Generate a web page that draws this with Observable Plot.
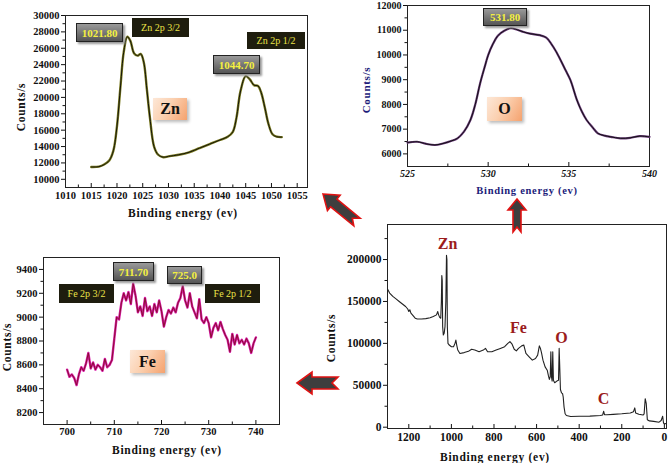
<!DOCTYPE html>
<html><head><meta charset="utf-8">
<script src="https://cdn.jsdelivr.net/npm/d3@7"></script>
<script src="https://cdn.jsdelivr.net/npm/@observablehq/plot@0.6"></script>
<style>
body{margin:0;background:#fff;}
#root{position:relative;width:669px;height:463px;overflow:hidden;font-family:"Liberation Serif","DejaVu Serif",serif;}
#root div{font-family:"Liberation Serif","DejaVu Serif",serif !important;}
#root svg text{font-family:"Liberation Serif","DejaVu Serif",serif !important;font-weight:bold;}
.panel{position:absolute;}
.lbl{position:absolute;font-weight:bold;white-space:nowrap;font-size:11.5px;letter-spacing:0.7px;color:#111;transform:translate(-50%,-50%);}
.rot{transform:translate(-50%,-50%) rotate(-90deg);}
.val{position:absolute;box-sizing:border-box;background:linear-gradient(#9a9a9a,#555);border:1px solid #222;box-shadow:2px 2px 2px #999;color:#f4f040;font-weight:bold;font-size:11px;display:flex;align-items:center;justify-content:center;}
.peak{position:absolute;background:#1e1d0e;color:#ece448;font-size:10px;display:flex;align-items:center;justify-content:center;white-space:nowrap;}
.elem{position:absolute;background:linear-gradient(120deg,#fde8d8 0%,#fbd0b0 45%,#f5a26e 100%);box-shadow:2px 2px 3px #bbb;font-weight:bold;font-size:16px;display:flex;align-items:center;justify-content:center;color:#111;}
</style></head>
<body><div id="root"></div>
<script>
// ---------- Zn 2p ----------
const znBE =     [1015, 1016.5, 1017.5, 1018.5, 1019.3, 1020, 1020.7, 1021.3, 1022, 1022.6, 1023.3, 1024, 1024.6, 1025.2, 1025.8, 1026.4, 1027.2, 1028, 1029, 1030, 1032, 1034, 1036, 1038, 1040, 1041.5, 1042.5, 1043.2, 1044, 1045, 1045.8, 1046.6, 1047.4, 1048, 1048.7, 1049.4, 1050.2, 1051, 1052];
const znCounts = [11500, 11550, 11800, 12300, 13500, 16500, 21500, 25500, 27400, 26900, 25400, 25100, 25300, 24300, 21000, 17500, 14000, 13000, 12700, 12800, 13000, 13300, 13800, 14300, 14800, 15200, 15800, 17500, 20800, 22600, 22200, 21500, 21400, 20600, 18800, 16800, 15500, 15200, 15150];
const znXTicks = [1010, 1015, 1020, 1025, 1030, 1035, 1040, 1045, 1050, 1055];
const znXMinor = [1012.5, 1017.5, 1022.5, 1027.5, 1032.5, 1037.5, 1042.5, 1047.5, 1052.5];
const znYTicks = [10000, 12000, 14000, 16000, 18000, 20000, 22000, 24000, 26000, 28000, 30000];
const znYMinor = [11000, 13000, 15000, 17000, 19000, 21000, 23000, 25000, 27000, 29000];

// ---------- O 1s ----------
const oBE =     [525, 525.6, 526.2, 526.7, 527.2, 527.7, 528.1, 528.5, 528.9, 529.2, 529.5, 529.8, 530, 530.3, 530.6, 531, 531.4, 531.8, 532.2, 532.6, 533.2, 533.6, 533.9, 534.2, 534.5, 534.8, 535.1, 535.5, 535.8, 536.1, 536.5, 536.8, 537.2, 537.6, 538.2, 538.8, 539.4, 540];
const oCounts = [6456, 6490, 6400, 6360, 6420, 6520, 6630, 6900, 7370, 8000, 8850, 9550, 9990, 10450, 10780, 10980, 11080, 11020, 10930, 10860, 10800, 10700, 10460, 10150, 9780, 9380, 8980, 8180, 7720, 7370, 7050, 6830, 6740, 6690, 6630, 6650, 6720, 6690];
const oXTicks = [525, 530, 535, 540];
const oXMinor = [527.5, 532.5, 537.5];
const oYTicks = [6000, 7000, 8000, 9000, 10000, 11000, 12000];
const oYMinor = [6500, 7500, 8500, 9500, 10500, 11500];

// ---------- Fe 2p ----------
const feBE = [700, 700.5, 701, 701.5, 702, 702.5, 703, 703.5, 704, 704.5, 705, 705.5, 706, 706.5, 707, 707.5, 708, 708.5, 709, 709.5,
  710, 710.5, 711, 711.5, 712, 712.5, 713, 713.5, 714, 714.5, 715, 715.5, 716, 716.5, 717, 717.5, 718, 718.5, 719, 719.5,
  720, 720.5, 721, 721.5, 722, 722.5, 723, 723.5, 724, 724.5, 725, 725.5, 726, 726.5, 727, 727.5, 728, 728.5, 729, 729.5,
  730, 730.5, 731, 731.5, 732, 732.5, 733, 733.5, 734, 734.5, 735, 735.5, 736, 736.5, 737, 737.5, 738, 738.5, 739, 739.5, 740];
const feCounts = [8560, 8500, 8520, 8490, 8430, 8520, 8580, 8550, 8610, 8700, 8570, 8620, 8560, 8600, 8580, 8550, 8650, 8580, 8600, 8640,
  8820, 9000, 8980, 9120, 9200, 9140, 9210, 9110, 9280, 9180, 9040, 9090, 9010, 9160, 9050, 9090, 9010, 9110, 9040, 9140,
  9050, 8920, 9000, 9060, 9030, 9080, 9040, 9120, 9160, 9260, 9140, 9080, 9200, 9090, 9040, 8990, 9150, 8980, 8950, 9000,
  8950, 8830, 8910, 8950, 8890, 8960, 8900, 8850, 8810, 8710, 8860, 8770, 8850, 8780, 8810, 8770, 8820, 8780, 8700, 8780, 8830];
const feXTicks = [700, 710, 720, 730, 740];
const feXMinor = [705, 715, 725, 735];
const feYTicks = [8200, 8400, 8600, 8800, 9000, 9200, 9400];
const feYMinor = [8300, 8500, 8700, 8900, 9100, 9300];

// ---------- Survey ----------
const svBE = [1300, 1290, 1275, 1260, 1245, 1230, 1215, 1205, 1200, 1195, 1190, 1180, 1170, 1160, 1140, 1120, 1100, 1085, 1070, 1064, 1060, 1055, 1050, 1047, 1045, 1043, 1041, 1038, 1034, 1030, 1026, 1023, 1021, 1019, 1016, 1010, 1000, 990, 983, 979, 975, 970, 960, 940, 920, 905, 890, 870, 850, 840, 830, 810, 790, 770, 750, 735, 725, 715, 705, 695, 685, 670, 660, 650, 635, 620, 605, 595, 587, 582, 577, 570, 560, 550, 545, 540, 536, 533, 530, 527, 524, 521, 515, 505, 497, 494, 491, 488, 483, 478, 475, 471, 466, 460, 440, 400, 350, 300, 290, 285, 281, 270, 240, 200, 160, 145, 139, 135, 120, 100, 95, 90, 85, 80, 70, 50, 25, 15, 8, 4, 0, -8];
const svCounts = [165000, 160000, 156000, 153000, 150000, 147000, 144000, 141000, 138000, 140000, 136000, 133000, 130000, 129000, 129000, 129500, 130500, 132000, 134000, 138000, 134000, 131000, 130000, 150000, 181000, 175000, 120000, 110000, 112000, 120000, 150000, 205000, 200000, 120000, 100000, 98000, 96000, 96000, 100000, 104000, 98000, 92000, 88000, 89000, 90500, 93000, 92000, 90000, 92000, 94000, 90000, 90000, 92000, 94000, 96000, 100000, 102000, 99000, 93000, 91000, 94000, 97000, 98000, 88000, 84000, 80000, 82000, 86000, 97000, 94000, 89000, 80000, 72000, 68000, 62000, 57000, 60000, 90000, 60000, 55000, 90000, 56000, 53000, 55000, 56000, 94000, 70000, 45000, 41000, 40000, 36000, 24000, 16000, 14000, 12800, 13000, 13200, 14000, 14500, 19000, 15000, 14800, 15300, 16000, 17000, 18500, 23000, 17000, 15500, 14500, 16000, 34000, 28000, 9000, 7500, 7000, 6000, 8000, 13000, 5000, 4000, 4500];
const svXTicks = [1200, 1000, 800, 600, 400, 200, 0];
const svXMinor = [1100, 900, 700, 500, 300, 100];
const svYTicks = [0, 50000, 100000, 150000, 200000];
const svYMinor = [25000, 75000, 125000, 175000, 225000];
const svElems = ["Zn", "Fe", "O", "C"];
const svElemBE = [1018, 685, 483, 286];
const svElemCounts = [219000, 118000, 107000, 34000];

// ---------- helpers ----------
const root = document.getElementById("root");
const rows = (xs, ys) => xs.map((x, i) => ({x, y: ys[i]}));
const fmt = d => String(d);

function place(el, left, top) {
  el.classList.add("panel");
  el.style.left = left + "px";
  el.style.top = top + "px";
  root.appendChild(el);
}
// x ticks point inward (up), y ticks point outward (left)
function axes(xT, xM, yT, yM, o = {}) {
  const xo = {tickSize: -4, tickPadding: 4 + (o.xGap || 4), label: null, tickFormat: fmt, fontSize: o.xFont || 10, fontStyle: o.xStyle || "normal"};
  const yo = {tickSize: 4, tickPadding: 2, label: null, tickFormat: fmt, fontSize: o.yFont || 10};
  return [
    Plot.axisX(xT, xo),
    Plot.axisX(xM, {tickSize: -2.5, tickFormat: () => "", label: null}),
    Plot.axisY(yT, yo),
    Plot.axisY(yM, {tickSize: 2.5, tickFormat: () => "", label: null})
  ];
}
const baseStyle = {fontFamily: "Liberation Serif", fontWeight: "bold", color: "#111", background: "transparent", overflow: "visible"};

// Zn panel
place(Plot.plot({
  width: 320, height: 215, marginLeft: 65, marginRight: 13, marginTop: 15, marginBottom: 28,
  x: {domain: [1010, 1057]}, y: {domain: [9000, 30000]},
  style: baseStyle,
  marks: [
    ...axes(znXTicks, znXMinor, znYTicks, znYMinor, {xFont: 10.5, yFont: 10.5, xGap: 4}),
    Plot.frame({stroke: "#222"}),
    Plot.line(rows(znBE, znCounts), {x: "x", y: "y", stroke: "#7a7a20", strokeWidth: 2.4, curve: "catmull-rom"}),
    Plot.line(rows(znBE, znCounts), {x: "x", y: "y", stroke: "#15150a", strokeWidth: 1, curve: "catmull-rom"})
  ]
}), 0, 0);

// O panel
place(Plot.plot({
  width: 329, height: 200, marginLeft: 67, marginRight: 20, marginTop: 5, marginBottom: 34,
  x: {domain: [525, 540]}, y: {domain: [5490, 12000]},
  style: baseStyle,
  marks: [
    ...axes(oXTicks, oXMinor, oYTicks, oYMinor, {xFont: 10, xStyle: "italic", yFont: 10, xGap: 3}),
    Plot.frame({stroke: "#222"}),
    Plot.line(rows(oBE, oCounts), {x: "x", y: "y", stroke: "#6a3a7a", strokeWidth: 2.2, curve: "catmull-rom"}),
    Plot.line(rows(oBE, oCounts), {x: "x", y: "y", stroke: "#111", strokeWidth: 1, curve: "catmull-rom"})
  ]
}), 340, 0);

// Fe panel
place(Plot.plot({
  width: 300, height: 233, marginLeft: 43, marginRight: 21, marginTop: 27, marginBottom: 39,
  x: {domain: [695, 745]}, y: {domain: [8100, 9500]},
  style: baseStyle,
  marks: [
    ...axes(feXTicks, feXMinor, feYTicks, feYMinor, {xFont: 10.5, yFont: 10.5, xGap: 3}),
    Plot.frame({stroke: "#222"}),
    Plot.line(rows(feBE, feCounts), {x: "x", y: "y", stroke: "#d81aa8", strokeWidth: 2.4}),
    Plot.line(rows(feBE, feCounts), {x: "x", y: "y", stroke: "#8a1030", strokeWidth: 1})
  ]
}), 0, 230);

// Survey panel
place(Plot.plot({
  width: 329, height: 263, marginLeft: 47, marginRight: 3, marginTop: 24, marginBottom: 35,
  x: {domain: [1300, -10]}, y: {domain: [-1550, 241800]},
  style: baseStyle,
  marks: [
    ...axes(svXTicks, svXMinor, svYTicks, svYMinor, {xFont: 11.5, yFont: 11.5, xGap: 4}),
    Plot.frame({stroke: "#222"}),
    Plot.line(rows(svBE, svCounts), {x: "x", y: "y", stroke: "#222", strokeWidth: 1.1}),
    Plot.text(svElems, {x: (d, i) => svElemBE[i], y: (d, i) => svElemCounts[i], text: d => d, fill: "#9b1c1c", fontSize: 16, fontWeight: "bold", fontFamily: "Liberation Serif"})
  ]
}), 340, 200);

// axis titles
function lbl(text, x, y, rot, color, size) {
  const d = document.createElement("div");
  d.className = "lbl" + (rot ? " rot" : "");
  d.textContent = text;
  d.style.left = x + "px"; d.style.top = y + "px";
  if (color) d.style.color = color;
  if (size) d.style.fontSize = size + "px";
  root.appendChild(d);
}
lbl("Counts/s", 21, 107, true);
lbl("Binding energy (ev)", 183, 213);
lbl("Counts/s", 366, 90, true, "#1c1c7a", 11);
lbl("Binding energy (ev)", 527, 190, false, "#1c1c7a", 10.5);
lbl("Counts/s", 7, 347, true);
lbl("Binding energy (ev)", 167, 450);
lbl("Counts/s", 331, 338, true);
lbl("Binding energy (ev)", 495, 457);

// annotation boxes
function box(cls, text, l, t, w, h) {
  const d = document.createElement("div");
  d.className = cls; d.textContent = text;
  Object.assign(d.style, {left: l + "px", top: t + "px", width: w + "px", height: h + "px"});
  root.appendChild(d);
}
box("val", "1021.80", 76, 23, 47, 19);
box("peak", "Zn 2p 3/2", 132, 18, 57, 19);
box("peak", "Zn 2p 1/2", 247, 32, 58, 17);
box("val", "1044.70", 213, 55, 47, 19);
box("elem", "Zn", 153, 98, 34, 22);
box("val", "531.80", 483, 8, 44, 18);
box("elem", "O", 487, 97, 35, 24);
box("val", "711.70", 113, 262, 41, 19);
box("val", "725.0", 167, 266, 35, 18);
box("peak", "Fe 2p 3/2", 59, 284, 55, 19);
box("peak", "Fe 2p 1/2", 205, 284, 55, 19);
box("elem", "Fe", 130, 350, 35, 23);

// decorative arrows
const ns = "http://www.w3.org/2000/svg";
const svg = document.createElementNS(ns, "svg");
svg.setAttribute("width", 669); svg.setAttribute("height", 463);
Object.assign(svg.style, {position: "absolute", left: "0px", top: "0px", pointerEvents: "none"});
function arrow(tx, ty, ang, len, hl, hh, bh, notch) {
  const p = document.createElementNS(ns, "polygon");
  const pts = [[0,0],[hl,-hh],[hl,-bh],[len,-bh],[len-notch,0],[len,bh],[hl,bh],[hl,hh]];
  p.setAttribute("points", pts.map(q => q.join(",")).join(" "));
  p.setAttribute("transform", `translate(${tx},${ty}) rotate(${ang})`);
  p.setAttribute("fill", "#3e3e3e");
  p.setAttribute("stroke", "#e01212");
  p.setAttribute("stroke-width", "1.6");
  p.setAttribute("stroke-linejoin", "miter");
  svg.appendChild(p);
}
arrow(323, 194, 39.5, 44, 14, 10, 5, 6);
arrow(517, 199, 90, 33, 11, 9, 4, 5);
arrow(297, 383, 0, 41, 15, 11, 6, 6);
root.appendChild(svg);
</script>
</body></html>
